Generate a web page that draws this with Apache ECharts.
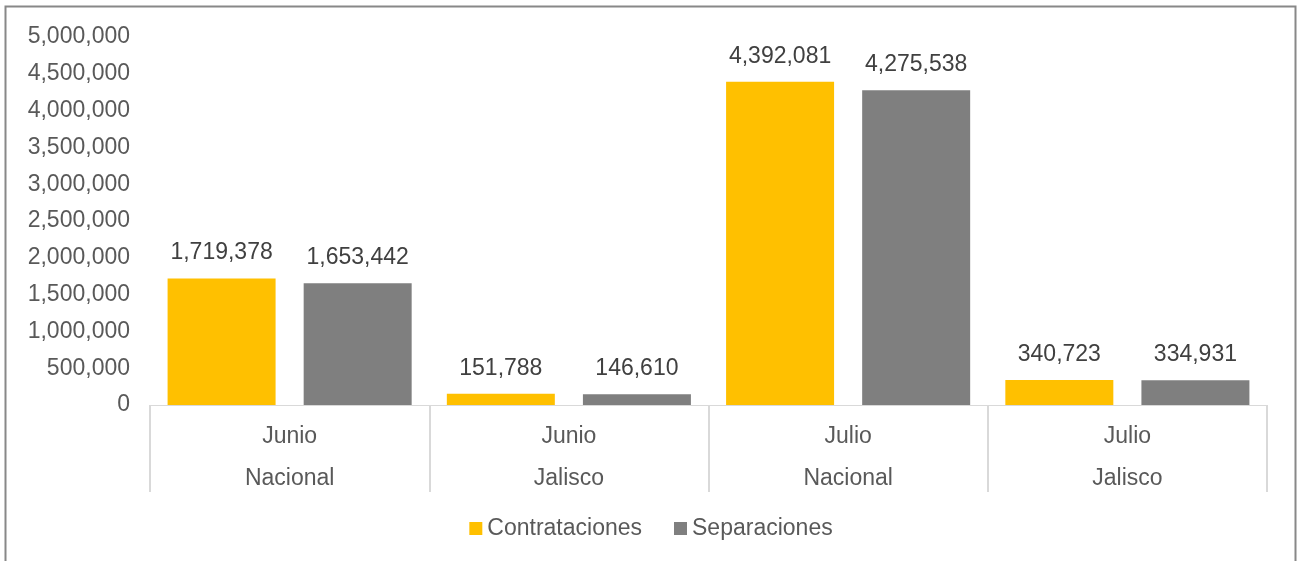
<!DOCTYPE html>
<html>
<head>
<meta charset="utf-8">
<script src="https://cdn.jsdelivr.net/npm/echarts@6/dist/echarts.min.js"></script>
<style>
html,body{margin:0;padding:0;background:#fff;}
#chart{width:1302px;height:561px;}
</style>
</head>
<body>
<div id="chart"></div>
<script>
var categories = ["Junio\nNacional", "Junio\nJalisco", "Julio\nNacional", "Julio\nJalisco"];
var seriesNames = ["Contrataciones", "Separaciones"];
var contrataciones = [1719378, 151788, 4392081, 340723];
var separaciones = [1653442, 146610, 4275538, 334931];

var fmt = function (v) { return Number(v).toLocaleString('en-US'); };
var font = "'Liberation Sans', Arial, sans-serif";
var fs = 23;

var chart = echarts.init(document.getElementById('chart'));
chart.setOption({
  animation: false,
  backgroundColor: '#ffffff',
  textStyle: { fontFamily: font },
  graphic: [{
    type: 'rect',
    shape: { x: 5.5, y: 6.5, width: 1290, height: 620 },
    style: { fill: 'none', stroke: '#888888', lineWidth: 2 },
    silent: true
  }],
  grid: { left: 150, right: 35, top: 37, bottom: 156 },
  legend: {
    data: seriesNames,
    bottom: 16,
    left: 'center',
    icon: 'rect',
    itemWidth: 13,
    itemHeight: 13,
    itemGap: 32,
    textStyle: { fontSize: fs, color: '#595959', fontFamily: font }
  },
  xAxis: {
    type: 'category',
    data: categories,
    axisLine: { lineStyle: { color: '#d9d9d9', width: 1 } },
    axisTick: { show: true, length: 87, lineStyle: { color: '#d9d9d9', width: 2 } },
    axisLabel: { fontSize: fs, color: '#595959', lineHeight: 42, margin: 11, fontFamily: font }
  },
  yAxis: {
    type: 'value',
    min: 0,
    max: 5000000,
    interval: 500000,
    splitLine: { show: false },
    axisLine: { show: false },
    axisTick: { show: false },
    axisLabel: { fontSize: fs, color: '#595959', margin: 20, fontFamily: font, formatter: fmt }
  },
  series: [{
    name: seriesNames[0],
    type: 'bar',
    data: contrataciones,
    barWidth: 108,
    barGap: '26%',
    itemStyle: { color: '#FFC000' },
    label: { show: true, position: 'top', distance: 14, fontSize: fs, color: '#404040', fontFamily: font, formatter: function (p) { return fmt(p.value); } }
  }, {
    name: seriesNames[1],
    type: 'bar',
    data: separaciones,
    barWidth: 108,
    barGap: '26%',
    itemStyle: { color: '#7F7F7F' },
    label: { show: true, position: 'top', distance: 14, fontSize: fs, color: '#404040', fontFamily: font, formatter: function (p) { return fmt(p.value); } }
  }]
});
</script>
</body>
</html>
